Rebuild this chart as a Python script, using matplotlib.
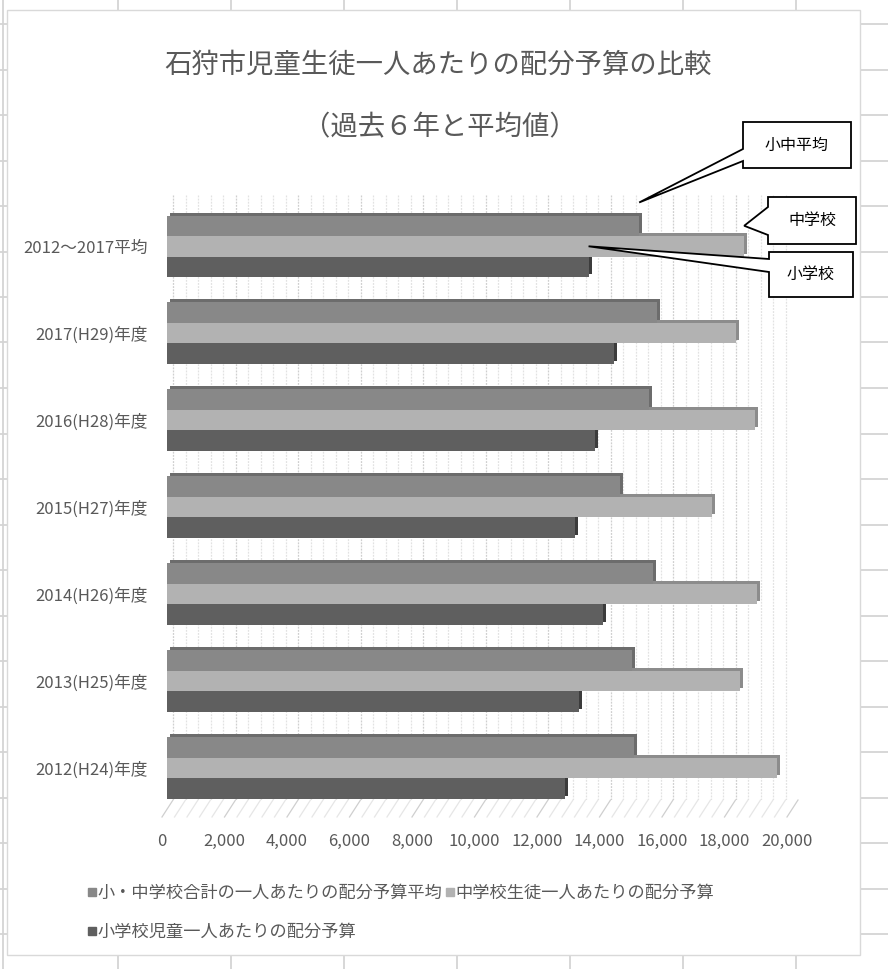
import numpy as np
import matplotlib
matplotlib.use('Agg')
import matplotlib.pyplot as plt
from matplotlib.patches import Polygon, Rectangle
from matplotlib.lines import Line2D
from matplotlib.transforms import ScaledTranslation

plt.rcParams['font.family'] = ['Noto Sans CJK JP', 'DejaVu Sans']

# データ (下から上の順)
categories = ['2012(H24)年度', '2013(H25)年度', '2014(H26)年度', '2015(H27)年度',
              '2016(H28)年度', '2017(H29)年度', '2012～2017平均']
avg_all = [14950, 14890, 15560, 14510, 15430, 15680, 15110]
junior = [19520, 18350, 18890, 17430, 18820, 18220, 18470]
elementary = [12730, 13180, 13940, 13050, 13680, 14290, 13490]
series_names = ['小・中学校合計の一人あたりの配分予算平均',
                '中学校生徒一人あたりの配分予算',
                '小学校児童一人あたりの配分予算']
xticks = list(range(0, 20001, 2000))

title1 = '石狩市児童生徒一人あたりの配分予算の比較'
title2 = '（過去６年と平均値）'
TXT = '#595959'

W, H = 888, 969
fig = plt.figure(figsize=(W / 100, H / 100), dpi=100)


def frac(x, y):
    # ピクセル座標(上から) -> figure座標
    return (x / W, 1 - y / H)


# Excel のシート罫線
for x in [3, 118, 231, 344, 457, 570, 683, 796]:
    fig.add_artist(Line2D([x / W, x / W], [0, 1], color='#d4d4d4', lw=1.3, zorder=-3))
for y in np.arange(24, H, 45.5):
    fig.add_artist(Line2D([0, 1], [1 - y / H, 1 - y / H], color='#d4d4d4', lw=1.3, zorder=-3))

# グラフエリア
x0, y0 = frac(7, 955)
fig.add_artist(Rectangle((x0, y0), 853 / W, 945 / H, transform=fig.transFigure,
                         facecolor='white', edgecolor='#d9d9d9', lw=1, zorder=-2))

ax = fig.add_axes([167 / W, 1 - 800 / H, 625 / W, 605 / H])
ax.set_facecolor('none')
ax.set_xlim(0, 20000)
ax.set_ylim(-0.37, 6.59)

yc = np.arange(len(categories))
h = 0.236
back = ScaledTranslation(6 / 100, 0, fig.dpi_scale_trans)

# 目盛線 (奥の壁)
for v in np.arange(0, 20001, 400):
    major = v % 2000 == 0
    ax.plot([v, v], [0, 1], color='#cfcfcf' if major else '#e2e2e2', lw=0.9, ls=(0, (1.5, 1)),
            transform=ax.get_xaxis_transform() + back, zorder=1)
    # 床の斜線
    bx, by = ax.transData.transform((v, -0.37))
    bx += 6
    p1 = fig.transFigure.inverted().transform((bx, by))
    p2 = fig.transFigure.inverted().transform((bx - 11, by - 17))
    fig.add_artist(Line2D([p1[0], p2[0]], [p1[1], p2[1]],
                          color='#cfcfcf' if major else '#e6e6e6', lw=0.9, zorder=1))

series = [
    (avg_all, h, '#888888', '#6c6c6c'),
    (junior, 0, '#b2b2b2', '#8c8c8c'),
    (elementary, -h, '#5f5f5f', '#3c3c3c'),
]
depth = ScaledTranslation(3 / 100, 3 / 100, fig.dpi_scale_trans)
for vals, off, c, dark in series:
    ax.barh(yc + off, vals, height=h, color=dark, transform=ax.transData + depth, zorder=2)
for vals, off, c, dark in series:
    ax.barh(yc + off, vals, height=h, color=c, zorder=3)
ax.set_xlim(0, 20000)
ax.set_ylim(-0.37, 6.59)

ax.set_yticks(yc, categories)
ax.tick_params(axis='y', length=0, pad=14, labelsize=12, labelcolor=TXT)
ax.set_xticks(xticks, [f'{v:,}' for v in xticks])
ax.tick_params(axis='x', length=0, pad=24, labelsize=12, labelcolor=TXT)
for lab in ax.get_xticklabels():
    lab.set_transform(lab.get_transform() + ScaledTranslation(-5 / 100, 0, fig.dpi_scale_trans))
for s in ax.spines.values():
    s.set_visible(False)

# タイトル
fig.text(*frac(438, 65), title1, ha='center', va='center', fontsize=19.7, color=TXT)
fig.text(*frac(440, 128), title2, ha='center', va='center', fontsize=19.7, color=TXT)

# 凡例
colors = ['#888888', '#b2b2b2', '#5f5f5f']
handles = [Line2D([], [], marker='s', ls='', color=c, markersize=6) for c in colors]
order = [0, 2, 1]
fig.legend([handles[i] for i in order], [series_names[i] for i in order],
           loc='upper left', bbox_to_anchor=frac(78, 875), ncol=2, frameon=False,
           fontsize=12.4, handletextpad=0.05, columnspacing=0.1, labelspacing=1.25,
           handlelength=0.6, borderpad=0, labelcolor=TXT)


# 吹き出し
def callout(box, wy, tip_data, text):
    bx0, by0, bx1, by1 = box
    tx, ty = ax.transData.transform(tip_data)
    tip = (tx, H - ty)
    pts = [(bx0, by0), (bx1, by0), (bx1, by1), (bx0, by1), (bx0, wy[1]), tip, (bx0, wy[0])]
    fig.add_artist(Polygon([frac(*p) for p in pts], closed=True, transform=fig.transFigure,
                           facecolor='white', edgecolor='black', lw=1.3, zorder=6))
    fig.text(*frac((bx0 + bx1) / 2, (by0 + by1) / 2), text, ha='center', va='center',
             fontsize=11.5, color='black', zorder=7)


callout((743, 122, 851, 168), (149, 161), (avg_all[-1], yc[-1] + 1.5 * h + 0.15), '小中平均')
callout((768, 197, 856, 244), (207, 235), (junior[-1], yc[-1] + h), '中学校')
callout((769, 252, 853, 297), (259, 272), (elementary[-1], yc[-1]), '小学校')

fig.savefig('out.png', dpi=100)
